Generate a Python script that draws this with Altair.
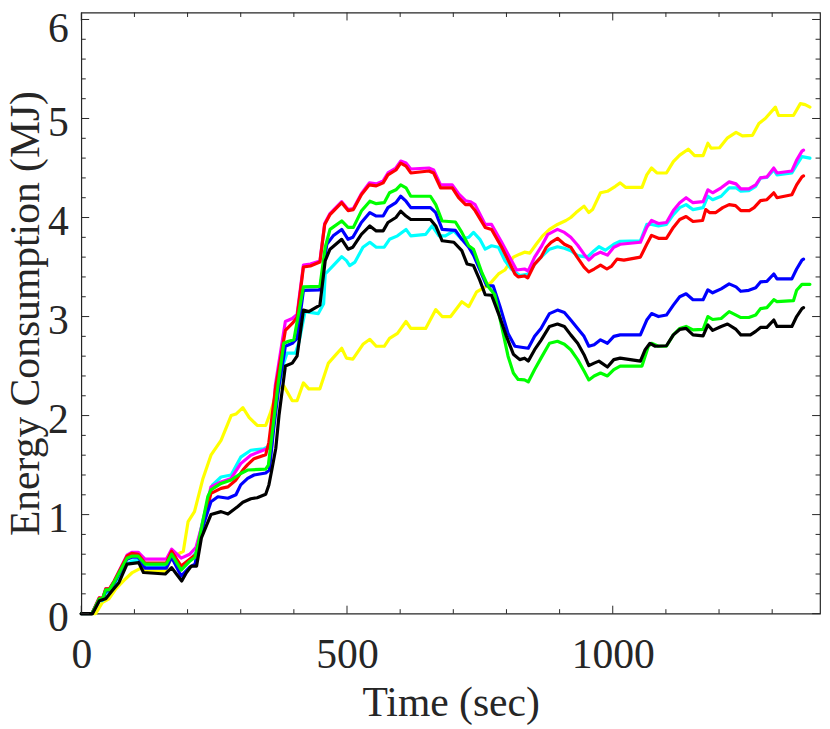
import altair as alt
import pandas as pd

# ---------------- data ----------------
yellow_t = [0, 27, 40, 52, 65, 83, 96, 114, 120, 158, 170, 182, 192, 201, 213, 229, 244, 263, 282, 291, 304, 316, 331, 347, 356, 369, 381, 397, 406, 418, 428, 449, 465, 480, 490, 499, 511, 530, 543, 555, 570, 580, 595, 611, 620, 648, 667, 679, 695, 716, 729, 744, 760, 772, 785, 797, 813, 825, 834, 844, 856, 868, 881, 896, 912, 921, 931, 946, 955, 962, 977, 990, 1005, 1014, 1024, 1055, 1064, 1073, 1083, 1101, 1114, 1126, 1142, 1154, 1170, 1179, 1185, 1201, 1216, 1232, 1244, 1263, 1275, 1287, 1306, 1312, 1340, 1353, 1362, 1371]
yellow_v = [0, 0, 0.115, 0.15, 0.25, 0.35, 0.415, 0.465, 0.43, 0.43, 0.565, 0.6, 0.63, 0.93, 1.03, 1.365, 1.6, 1.75, 2.0, 2.015, 2.08, 1.98, 1.9, 1.9, 2.03, 2.27, 2.3, 2.15, 2.15, 2.33, 2.27, 2.27, 2.53, 2.62, 2.68, 2.58, 2.57, 2.72, 2.77, 2.7, 2.7, 2.78, 2.83, 2.95, 2.88, 2.88, 3.07, 3.0, 3.0, 3.15, 3.1, 3.25, 3.3, 3.35, 3.43, 3.47, 3.6, 3.63, 3.65, 3.64, 3.73, 3.815, 3.88, 3.93, 3.97, 4.0, 4.05, 4.115, 4.05, 4.08, 4.25, 4.265, 4.315, 4.35, 4.305, 4.305, 4.43, 4.5, 4.45, 4.45, 4.565, 4.63, 4.69, 4.625, 4.625, 4.75, 4.7, 4.705, 4.805, 4.86, 4.825, 4.83, 4.95, 5.0, 5.115, 5.03, 5.03, 5.15, 5.14, 5.115]

cyan_t = [0, 20, 34, 40, 46, 53, 62, 86, 95, 107, 120, 160, 170, 188, 204, 216, 229, 238, 247, 263, 282, 300, 319, 344, 356, 368, 381, 387, 403, 410, 421, 446, 456, 459, 474, 490, 499, 505, 515, 530, 543, 555, 570, 580, 595, 611, 620, 648, 660, 673, 685, 701, 716, 729, 738, 750, 760, 772, 785, 797, 809, 825, 841, 853, 865, 881, 896, 909, 921, 934, 952, 965, 974, 986, 1002, 1014, 1052, 1064, 1073, 1086, 1101, 1114, 1126, 1138, 1151, 1170, 1179, 1188, 1204, 1219, 1232, 1241, 1256, 1269, 1278, 1290, 1303, 1309, 1337, 1346, 1356, 1371]
cyan_v = [0, 0, 0.13, 0.13, 0.21, 0.22, 0.3, 0.5, 0.53, 0.54, 0.47, 0.48, 0.6, 0.45, 0.53, 0.62, 0.95, 1.13, 1.3, 1.38, 1.4, 1.58, 1.65, 1.665, 1.7, 2.2, 2.53, 2.63, 2.63, 2.75, 3.05, 3.03, 3.13, 3.43, 3.515, 3.605, 3.565, 3.515, 3.55, 3.7, 3.75, 3.7, 3.7, 3.78, 3.815, 3.88, 3.815, 3.83, 3.915, 3.815, 3.815, 3.865, 3.78, 3.8, 3.85, 3.78, 3.68, 3.715, 3.7, 3.565, 3.48, 3.415, 3.43, 3.53, 3.6, 3.68, 3.705, 3.69, 3.665, 3.615, 3.6, 3.665, 3.705, 3.67, 3.73, 3.76, 3.765, 3.93, 3.93, 3.915, 3.93, 4.03, 4.1, 4.13, 4.08, 4.1, 4.215, 4.18, 4.215, 4.3, 4.3, 4.265, 4.27, 4.315, 4.4, 4.405, 4.48, 4.43, 4.45, 4.53, 4.615, 4.6]

magenta_t = [0, 20, 34, 40, 46, 53, 62, 86, 95, 107, 120, 160, 170, 188, 204, 216, 229, 244, 263, 282, 300, 319, 347, 358, 365, 384, 397, 406, 418, 431, 449, 458, 468, 490, 502, 512, 527, 542, 555, 568, 577, 592, 601, 611, 620, 654, 663, 676, 698, 710, 723, 732, 741, 760, 772, 791, 819, 834, 841, 853, 865, 878, 896, 909, 921, 934, 946, 955, 965, 977, 990, 1002, 1014, 1052, 1064, 1073, 1086, 1101, 1114, 1126, 1138, 1151, 1170, 1179, 1188, 1204, 1219, 1232, 1241, 1256, 1269, 1278, 1290, 1303, 1309, 1337, 1346, 1356, 1359]
magenta_v = [0, 0, 0.16, 0.15, 0.25, 0.25, 0.33, 0.59, 0.62, 0.62, 0.55, 0.55, 0.65, 0.56, 0.6, 0.67, 0.93, 1.28, 1.33, 1.365, 1.515, 1.6, 1.66, 1.68, 2.3, 2.95, 2.98, 3.02, 3.52, 3.53, 3.56, 3.94, 4.04, 4.16, 4.08, 4.09, 4.24, 4.35, 4.34, 4.37, 4.45, 4.5, 4.57, 4.55, 4.49, 4.5, 4.48, 4.33, 4.33, 4.24, 4.17, 4.16, 4.13, 3.93, 3.93, 3.75, 3.47, 3.48, 3.46, 3.6, 3.7, 3.83, 3.88, 3.85, 3.8, 3.72, 3.63, 3.57, 3.62, 3.65, 3.62, 3.7, 3.73, 3.75, 3.9, 3.97, 3.94, 3.95, 4.07, 4.15, 4.2, 4.15, 4.16, 4.28, 4.25, 4.3, 4.36, 4.34, 4.29, 4.29, 4.33, 4.4, 4.41, 4.5, 4.45, 4.47, 4.58, 4.67, 4.68]

red_t = [0, 20, 34, 40, 46, 53, 62, 86, 95, 107, 120, 160, 170, 188, 204, 216, 229, 244, 263, 276, 291, 304, 313, 325, 347, 353, 365, 384, 397, 406, 418, 431, 449, 458, 468, 490, 502, 512, 527, 542, 555, 568, 577, 592, 601, 611, 620, 654, 663, 676, 698, 710, 723, 732, 741, 760, 772, 791, 816, 822, 834, 840, 853, 865, 875, 884, 896, 909, 921, 933, 946, 955, 965, 977, 989, 998, 1008, 1021, 1052, 1064, 1073, 1086, 1101, 1114, 1126, 1138, 1151, 1169, 1175, 1182, 1194, 1207, 1219, 1231, 1241, 1257, 1266, 1278, 1290, 1303, 1309, 1337, 1346, 1356, 1359]
red_v = [0, 0, 0.16, 0.15, 0.25, 0.25, 0.33, 0.58, 0.61, 0.6, 0.51, 0.51, 0.63, 0.48, 0.55, 0.6, 0.9, 1.215, 1.265, 1.28, 1.35, 1.45, 1.505, 1.565, 1.605, 1.73, 2.26, 2.86, 2.93, 2.99, 3.5, 3.51, 3.55, 3.93, 4.03, 4.15, 4.07, 4.08, 4.23, 4.33, 4.32, 4.35, 4.43, 4.48, 4.55, 4.52, 4.45, 4.47, 4.45, 4.3, 4.3, 4.2, 4.13, 4.13, 4.07, 3.9, 3.88, 3.7, 3.43, 3.4, 3.41, 3.39, 3.53, 3.6, 3.7, 3.75, 3.79, 3.73, 3.7, 3.6, 3.5, 3.45, 3.48, 3.52, 3.48, 3.51, 3.58, 3.57, 3.6, 3.73, 3.82, 3.79, 3.79, 3.9, 3.98, 4.01, 3.96, 3.97, 4.08, 4.05, 4.05, 4.1, 4.13, 4.12, 4.07, 4.07, 4.1, 4.17, 4.18, 4.25, 4.2, 4.23, 4.33, 4.41, 4.42]

blue_t = [0, 20, 34, 40, 46, 53, 62, 86, 95, 107, 120, 160, 170, 188, 204, 214, 230, 244, 257, 276, 291, 300, 313, 325, 347, 354, 362, 372, 384, 397, 406, 418, 449, 462, 474, 490, 502, 511, 527, 543, 555, 568, 577, 592, 601, 611, 620, 657, 667, 679, 704, 716, 729, 738, 754, 763, 775, 788, 803, 816, 828, 841, 853, 865, 881, 896, 909, 921, 934, 946, 955, 965, 977, 990, 1002, 1014, 1052, 1064, 1073, 1086, 1101, 1114, 1126, 1138, 1151, 1170, 1179, 1188, 1204, 1219, 1232, 1241, 1256, 1269, 1278, 1290, 1303, 1309, 1337, 1346, 1356, 1359]
blue_v = [0, 0, 0.14, 0.14, 0.23, 0.23, 0.31, 0.55, 0.57, 0.57, 0.46, 0.46, 0.57, 0.38, 0.47, 0.5, 0.9, 1.13, 1.18, 1.165, 1.2, 1.3, 1.365, 1.4, 1.42, 1.45, 1.865, 2.3, 2.7, 2.73, 2.78, 3.265, 3.27, 3.73, 3.815, 3.88, 3.78, 3.8, 3.95, 4.05, 4.015, 4.015, 4.1, 4.15, 4.215, 4.165, 4.1, 4.1, 4.05, 3.88, 3.87, 3.78, 3.7, 3.62, 3.42, 3.31, 3.31, 3.1, 2.83, 2.7, 2.69, 2.68, 2.8, 2.88, 3.03, 3.065, 3.04, 2.965, 2.88, 2.8, 2.7, 2.715, 2.765, 2.73, 2.8, 2.815, 2.815, 2.965, 3.03, 3.0, 3.015, 3.115, 3.2, 3.23, 3.17, 3.17, 3.27, 3.24, 3.28, 3.33, 3.3, 3.255, 3.265, 3.29, 3.35, 3.355, 3.43, 3.38, 3.38, 3.48, 3.57, 3.58]

green_t = [0, 20, 34, 40, 46, 53, 62, 86, 95, 107, 120, 160, 170, 188, 204, 214, 220, 238, 244, 263, 282, 300, 313, 347, 352, 370, 381, 390, 400, 418, 449, 459, 468, 490, 502, 512, 527, 543, 555, 570, 580, 592, 601, 611, 620, 657, 667, 679, 704, 716, 729, 738, 754, 766, 778, 791, 803, 813, 822, 834, 841, 853, 865, 881, 896, 909, 921, 934, 946, 955, 965, 977, 990, 1002, 1014, 1055, 1067, 1073, 1086, 1101, 1114, 1126, 1138, 1151, 1170, 1179, 1188, 1204, 1219, 1232, 1241, 1256, 1269, 1278, 1290, 1303, 1309, 1340, 1346, 1356, 1371]
green_v = [0, 0, 0.15, 0.15, 0.24, 0.24, 0.32, 0.56, 0.58, 0.58, 0.5, 0.5, 0.6, 0.44, 0.53, 0.57, 0.7, 1.18, 1.25, 1.315, 1.35, 1.415, 1.45, 1.46, 1.5, 2.3, 2.73, 2.75, 2.765, 3.3, 3.305, 3.7, 3.88, 3.965, 3.9, 3.9, 4.065, 4.165, 4.14, 4.15, 4.25, 4.28, 4.33, 4.3, 4.215, 4.215, 4.13, 3.965, 3.955, 3.85, 3.715, 3.68, 3.44, 3.3, 3.22, 2.9, 2.6, 2.43, 2.365, 2.36, 2.34, 2.465, 2.58, 2.73, 2.75, 2.72, 2.665, 2.565, 2.45, 2.36, 2.4, 2.43, 2.4, 2.465, 2.5, 2.5, 2.7, 2.73, 2.7, 2.7, 2.815, 2.88, 2.9, 2.865, 2.87, 3.0, 2.97, 2.98, 3.05, 3.015, 2.99, 2.99, 3.015, 3.08, 3.09, 3.17, 3.15, 3.16, 3.265, 3.325, 3.325]

black_t = [0, 21, 34, 46, 58, 71, 86, 108, 117, 158, 170, 179, 189, 198, 207, 217, 226, 244, 263, 276, 294, 304, 319, 331, 347, 353, 359, 366, 372, 384, 397, 406, 418, 428, 449, 459, 468, 490, 502, 511, 527, 543, 555, 568, 577, 592, 601, 611, 620, 657, 667, 679, 701, 716, 726, 738, 750, 760, 772, 785, 800, 813, 825, 834, 841, 853, 865, 881, 896, 909, 921, 934, 946, 955, 965, 974, 990, 1002, 1014, 1052, 1061, 1070, 1080, 1101, 1114, 1126, 1138, 1151, 1170, 1179, 1188, 1204, 1216, 1232, 1241, 1259, 1269, 1278, 1290, 1303, 1309, 1337, 1346, 1356, 1359]
black_v = [0, 0, 0.13, 0.15, 0.23, 0.315, 0.5, 0.515, 0.415, 0.4, 0.465, 0.4, 0.33, 0.415, 0.48, 0.48, 0.765, 1.0, 1.03, 1.005, 1.08, 1.125, 1.16, 1.17, 1.205, 1.3, 1.465, 1.67, 2.0, 2.5, 2.53, 2.6, 3.065, 3.05, 3.115, 3.565, 3.68, 3.78, 3.68, 3.7, 3.83, 3.915, 3.865, 3.865, 3.95, 4.0, 4.065, 4.015, 3.98, 3.98, 3.915, 3.765, 3.75, 3.665, 3.53, 3.515, 3.365, 3.22, 3.215, 3.03, 2.8, 2.62, 2.565, 2.58, 2.55, 2.665, 2.76, 2.9, 2.925, 2.9, 2.815, 2.73, 2.615, 2.505, 2.53, 2.55, 2.49, 2.565, 2.58, 2.55, 2.665, 2.73, 2.7, 2.705, 2.815, 2.87, 2.88, 2.815, 2.805, 2.915, 2.86, 2.9, 2.925, 2.87, 2.815, 2.815, 2.85, 2.89, 2.89, 2.965, 2.9, 2.9, 3.0, 3.08, 3.09]

# axis tick positions
x_major = [0, 500, 1000]
x_minor = [100, 200, 300, 400, 600, 700, 800, 900, 1100, 1200, 1300]
y_major = [0, 1, 2, 3, 4, 5, 6]
y_minor = [0.2, 0.4, 0.6, 0.8, 1.2, 1.4, 1.6, 1.8, 2.2, 2.4, 2.6, 2.8,
           3.2, 3.4, 3.6, 3.8, 4.2, 4.4, 4.6, 4.8, 5.2, 5.4, 5.6, 5.8]

# ---------------- chart ----------------
W, H = 746, 607
FONT = "Liberation Serif, Times New Roman, Times, DejaVu Serif, serif"
AX = "#262626"

xs = alt.Scale(domain=[0, 1390], nice=False, zero=False)
ys = alt.Scale(domain=[0, 6.07], nice=False, zero=False)

xaxis = alt.Axis(title="Time (sec)", values=x_major, format="d", ticks=False, tickSize=0,
                 domain=False, grid=False, labelFont=FONT, labelFontSize=42,
                 labelColor=AX, labelPadding=21, labelFlush=False, labelOverlap=False,
                 titleFont=FONT, titleFontSize=42, titleFontWeight="normal",
                 titleColor=AX, titlePadding=8)
yaxis = alt.Axis(title="Energy Consumption (MJ)", values=y_major, format="d", ticks=False,
                 tickSize=0, domain=False, grid=False, labelFont=FONT, labelFontSize=42,
                 labelColor=AX, labelPadding=13,
                 labelOffset={"condition": {"test": "datum.value == 6", "value": 9},
                              "value": 4},
                 labelOverlap=False, labelBaseline="middle",
                 titleFont=FONT, titleFontSize=42, titleFontWeight="normal",
                 titleColor=AX, titlePadding=0)

series = [
    ("#FFFF00", yellow_t, yellow_v),
    ("#00FFFF", cyan_t, cyan_v),
    ("#FF00FF", magenta_t, magenta_v),
    ("#FF0000", red_t, red_v),
    ("#0000FF", blue_t, blue_v),
    ("#00FF00", green_t, green_v),
    ("#000000", black_t, black_v),
]

layers = []
for col, t, v in series:
    df = pd.DataFrame({"t": t, "v": v})
    layers.append(
        alt.Chart(df).mark_line(color=col, strokeWidth=3.2, strokeJoin="round",
                                strokeCap="round").encode(
            x=alt.X("t:Q", scale=xs, axis=xaxis),
            y=alt.Y("v:Q", scale=ys, axis=yaxis),
        )
    )


def xticks(vals, L):
    df = pd.DataFrame({"t": vals})
    base = alt.Chart(df).mark_rule(color=AX, strokeWidth=1)
    bottom = base.encode(x=alt.X("t:Q", scale=xs, axis=xaxis),
                         y=alt.value(H), y2=alt.value(H - L))
    top = base.encode(x=alt.X("t:Q", scale=xs, axis=xaxis),
                      y=alt.value(0), y2=alt.value(L))
    return [bottom, top]


def yticks(vals, L):
    df = pd.DataFrame({"v": vals})
    base = alt.Chart(df).mark_rule(color=AX, strokeWidth=1)
    left = base.encode(y=alt.Y("v:Q", scale=ys, axis=yaxis),
                       x=alt.value(0), x2=alt.value(L))
    right = base.encode(y=alt.Y("v:Q", scale=ys, axis=yaxis),
                        x=alt.value(W), x2=alt.value(W - L))
    return [left, right]


layers += xticks(x_major, 8) + xticks(x_minor, 4.5)
layers += yticks(y_major, 8) + yticks(y_minor, 4.5)

chart = alt.layer(*layers).properties(
    width=W, height=H,
    autosize=alt.AutoSizeParams(type="none"),
    padding={"left": 74, "top": 1, "right": 2, "bottom": 121},
    background="white",
).configure_view(stroke=AX, strokeWidth=1.2)

chart.save("out.html", embed_options={"renderer": "svg", "actions": False})
